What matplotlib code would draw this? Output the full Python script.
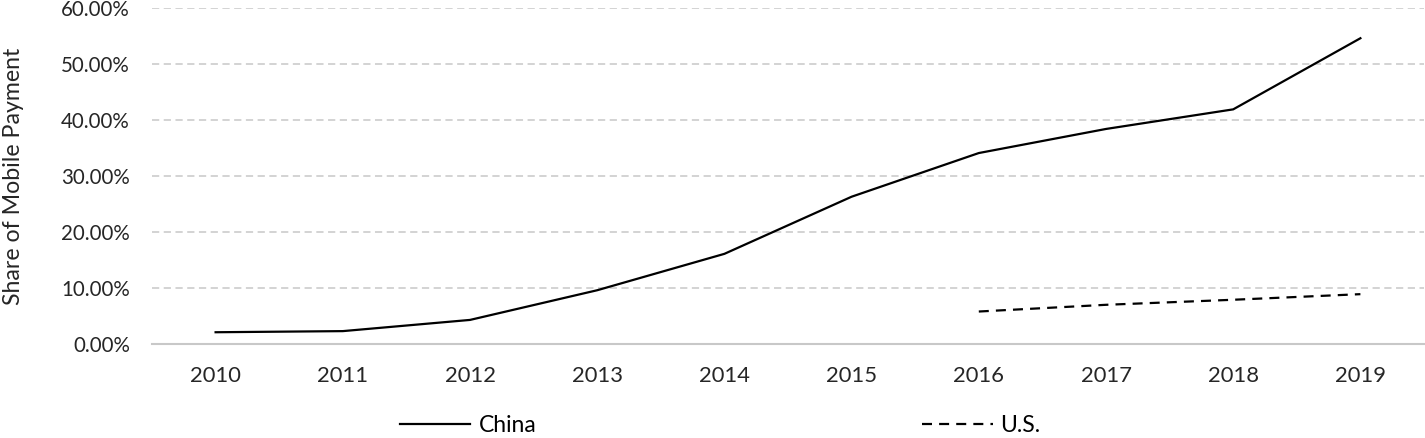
import matplotlib
matplotlib.use("Agg")
import matplotlib.pyplot as plt
from matplotlib.ticker import FuncFormatter

years = [2010, 2011, 2012, 2013, 2014, 2015, 2016, 2017, 2018, 2019]
china = [0.021, 0.023, 0.043, 0.096, 0.161, 0.263, 0.341, 0.384, 0.419, 0.546]
us_years = [2016, 2017, 2018, 2019]
us = [0.058, 0.070, 0.079, 0.089]

plt.rcParams['font.family'] = ['Lato', 'DejaVu Sans']

fig = plt.figure(figsize=(14.25, 4.38), dpi=100)
L, R, T, B = 152, 1424, 8, 344
ax = fig.add_axes([L/1425, (438-B)/438, (R-L)/1425, (B-T)/438])

xpos = list(range(len(years)))
us_pos = [years.index(y) for y in us_years]
l1, = ax.plot(xpos, china, color='black', lw=1.6, label='China')
l2, = ax.plot(us_pos, us, color='black', lw=1.6, ls=(0, (4.5, 3.2)), label='U.S.')

ax.set_xlim(-0.5, 9.5)
ax.set_ylim(0, 0.6)
ax.set_yticks([0, 0.1, 0.2, 0.3, 0.4, 0.5, 0.6])
ax.yaxis.set_major_formatter(FuncFormatter(lambda v, p: f"{v*100:.2f}%"))
ax.set_xticks(xpos)
ax.set_xticklabels([str(y) for y in years])
ax.tick_params(axis='both', length=0, colors='#262626')
ax.tick_params(axis='x', pad=16, labelsize=15.8)
ax.tick_params(axis='y', pad=16, labelsize=14.8)
ax.grid(axis='y', color='#d0d0d0', ls=(0, (4, 2.5)), lw=1.3)
ax.set_axisbelow(True)
for s in ['top', 'right', 'left']:
    ax.spines[s].set_visible(False)
ax.spines['bottom'].set_color('#c8c8c8')
ax.spines['bottom'].set_linewidth(1.5)
ax.set_ylabel('Share of Mobile Payment', fontsize=16.7, color='#262626')
ax.yaxis.set_label_coords((24 - L) / (R - L), 0.5)

fig.legend(handles=[l1, l2], loc='center', bbox_to_anchor=(720.5/1425, 1 - 426/438),
           ncol=2, frameon=False, fontsize=16.5, handlelength=3.06, handletextpad=0.35,
           columnspacing=16.85, borderpad=0, borderaxespad=0)

fig.savefig('out.png', dpi=100)
